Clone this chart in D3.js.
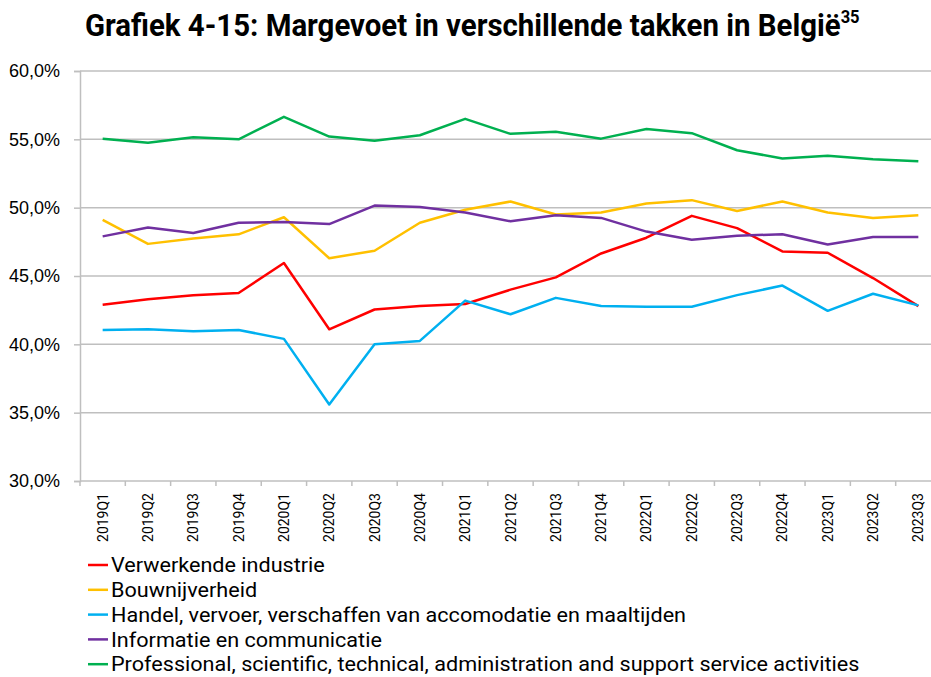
<!DOCTYPE html>
<html>
<head>
<meta charset="utf-8">
<script src="https://cdn.jsdelivr.net/npm/d3@7"></script>
<style>
  body { margin: 0; background: #fff; }
  svg { display: block; font-family: Roboto, "Noto Sans", sans-serif; }
</style>
</head>
<body>
<div id="chart"></div>
<script>
// ── Data ──────────────────────────────────────────────
const quarters = ["2019Q1","2019Q2","2019Q3","2019Q4","2020Q1","2020Q2","2020Q3","2020Q4",
  "2021Q1","2021Q2","2021Q3","2021Q4","2022Q1","2022Q2","2022Q3","2022Q4","2023Q1","2023Q2","2023Q3"];

const verwerkende = [42.9,43.3,43.6,43.75,45.95,41.1,42.55,42.8,42.95,44.0,44.9,46.65,47.8,49.4,48.5,46.8,46.7,44.85,42.8];
const bouw        = [49.1,47.35,47.75,48.05,49.3,46.3,46.85,48.9,49.85,50.45,49.5,49.65,50.3,50.55,49.75,50.45,49.65,49.25,49.45];
const handel      = [41.05,41.1,40.95,41.05,40.4,35.6,40.0,40.25,43.2,42.2,43.4,42.8,42.75,42.75,43.6,44.3,42.45,43.7,42.85];
const informatie  = [47.9,48.55,48.15,48.9,48.95,48.8,50.15,50.05,49.65,49.0,49.45,49.25,48.25,47.65,47.95,48.05,47.3,47.85,47.85];
const professional= [55.05,54.75,55.15,55.0,56.65,55.2,54.9,55.3,56.5,55.4,55.55,55.05,55.75,55.45,54.2,53.6,53.8,53.55,53.4];

const seriesNames = ["Verwerkende industrie", "Bouwnijverheid",
  "Handel, vervoer, verschaffen van accomodatie en maaltijden",
  "Informatie en communicatie",
  "Professional, scientific, technical, administration and support service activities"];
const seriesValues = [verwerkende, bouw, handel, informatie, professional];
const seriesColors = ["#ff0000", "#ffc000", "#00b0f0", "#7030a0", "#00b050"];
const yTicks = [30, 35, 40, 45, 50, 55, 60];

// ── Layout ────────────────────────────────────────────
const width = 931, height = 677;
const plot = { left: 80, right: 941, top: 71, bottom: 481 };
const gridColor = "#bfbfbf";

const svg = d3.select("#chart").append("svg")
    .attr("width", width)
    .attr("height", height);

const xScale = d3.scaleBand().domain(quarters).range([plot.left, plot.right]);
const xMid = d => xScale(d) + xScale.bandwidth() / 2;
const yScale = d3.scaleLinear().domain([30, 60]).range([plot.bottom, plot.top]);

// Title (condensed look via horizontal scale)
const title = svg.append("text")
    .attr("x", 85)
    .attr("y", 36)
    .attr("font-size", 32)
    .attr("font-weight", 700)
    .attr("fill", "#000");
title.append("tspan").text("Grafiek 4-15: Margevoet in verschillende takken in België");
title.append("tspan").text("35").attr("font-size", 18).attr("dy", -13);
const tw = title.node().getComputedTextLength();
title.attr("transform", `translate(85,0) scale(${775 / tw},1) translate(-85,0)`);

// Left axis + gridlines
const leftAxis = d3.axisLeft(yScale)
    .tickValues(yTicks)
    .tickSize(6)
    .tickPadding(14)
    .tickFormat(d => d.toFixed(1).replace(".", ",") + "%");
const yAxisG = svg.append("g")
    .attr("transform", `translate(${plot.left},0)`)
    .call(leftAxis);
yAxisG.select(".domain").attr("stroke", gridColor).attr("stroke-width", 1.5);
yAxisG.selectAll(".tick line").attr("stroke", gridColor).attr("stroke-width", 1.5);
yAxisG.selectAll(".tick text").attr("font-size", 18).attr("fill", "#000");

svg.append("g").selectAll("line")
    .data(yTicks)
    .join("line")
    .attr("x1", plot.left)
    .attr("x2", plot.right)
    .attr("y1", d => yScale(d))
    .attr("y2", d => yScale(d))
    .attr("stroke", gridColor)
    .attr("stroke-width", 1.5);

// Bottom tick marks at band edges
svg.append("g").selectAll("line")
    .data(quarters)
    .join("line")
    .attr("x1", d => xScale(d))
    .attr("x2", d => xScale(d))
    .attr("y1", plot.bottom)
    .attr("y2", plot.bottom + 5)
    .attr("stroke", gridColor)
    .attr("stroke-width", 1.5);

// Bottom labels, rotated
svg.append("g").selectAll("text")
    .data(quarters)
    .join("text")
    .text(d => d)
    .attr("transform", d => `translate(${xMid(d)},${plot.bottom + 12}) rotate(-90)`)
    .attr("text-anchor", "end")
    .attr("dominant-baseline", "central")
    .attr("font-size", 14)
    .attr("fill", "#000");

// Lines
const line = d3.line()
    .x((d, i) => xMid(quarters[i]))
    .y(d => yScale(d));

svg.append("g").selectAll("path")
    .data(seriesValues)
    .join("path")
    .attr("d", d => line(d))
    .attr("fill", "none")
    .attr("stroke", (d, i) => seriesColors[i])
    .attr("stroke-width", 2.5)
    .attr("stroke-linejoin", "round");

// Legend
const legend = svg.append("g");
const rows = legend.selectAll("g")
    .data(seriesNames)
    .join("g")
    .attr("transform", (d, i) => `translate(0,${565 + i * 24.8})`);

rows.append("line")
    .attr("x1", 88)
    .attr("x2", 108)
    .attr("stroke", (d, i) => seriesColors[i])
    .attr("stroke-width", 2.5);

const legendText = rows.append("text")
    .text(d => d)
    .attr("x", 111)
    .attr("dominant-baseline", "central")
    .attr("font-size", 20.5)
    .attr("fill", "#000");

const lw = legendText.nodes()[4].getComputedTextLength();
const ls = 749 / lw;
legendText.attr("transform", `translate(111,0) scale(${ls},1) translate(-111,0)`);
</script>
</body>
</html>
